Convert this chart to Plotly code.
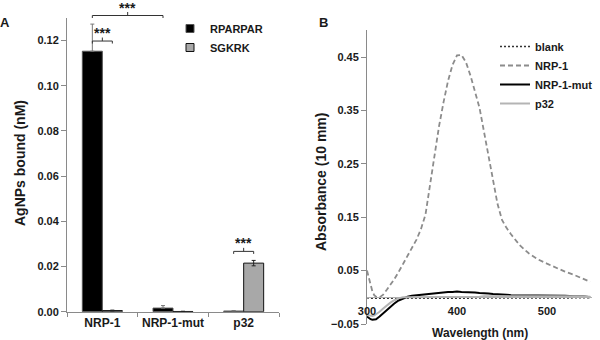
import plotly.graph_objects as go

# ---------------- Panel A data ----------------
categories = ["NRP-1", "NRP-1-mut", "p32"]
rparpar = [0.1153, 0.0016, 0.0003]
rparpar_err = [0.0120, 0.0011, 0.0002]
sgkrk = [0.0005, 0.0001, 0.0215]
sgkrk_err = [0.0002, 0.0001, 0.0012]
a_ticks = [0.00, 0.02, 0.04, 0.06, 0.08, 0.10, 0.12]
# brackets: (group1, bar1, group2, bar2, level)
brackets = [(0, 0, 0, 1, 0.1198), (0, 0, 1, 0, 0.1311), (2, 0, 2, 1, 0.0267)]
bracket_label = "***"

# ---------------- Panel B data ----------------
wavelength = [300, 302, 304, 306, 308, 310, 314, 318, 322, 326, 330, 335, 340, 345, 350,
              355, 360, 365, 370, 375, 380, 385, 390, 395, 400, 405, 410, 415, 420, 425,
              430, 435, 440, 445, 450, 455, 460, 470, 480, 490, 500, 510, 520, 530, 540, 548]
blank = [-0.001, -0.002, -0.002, -0.002, -0.002, -0.002, -0.002, -0.002, -0.002, -0.002,
         -0.002, -0.002, -0.002, -0.002, -0.002, -0.002, -0.002, -0.002, -0.002, -0.002,
         -0.002, -0.002, -0.002, -0.001, -0.001, -0.001, -0.002, -0.001, -0.001, -0.001,
         -0.001, -0.001, -0.001, -0.001, -0.001, -0.001, -0.001, -0.001, -0.001, -0.001,
         -0.001, -0.001, -0.001, -0.001, -0.001, -0.001]
nrp1 = [0.050, 0.036, 0.022, 0.011, 0.004, 0.001, 0.000, 0.005, 0.014, 0.023, 0.033, 0.047,
        0.062, 0.078, 0.094, 0.108, 0.128, 0.155, 0.210, 0.270, 0.320, 0.365, 0.405, 0.435,
        0.453, 0.454, 0.440, 0.415, 0.385, 0.355, 0.310, 0.265, 0.220, 0.175, 0.145, 0.130,
        0.118, 0.097, 0.082, 0.071, 0.063, 0.055, 0.048, 0.042, 0.035, 0.029]
nrp1_mut = [-0.036, -0.039, -0.041, -0.042, -0.042, -0.041, -0.036, -0.030, -0.023, -0.017,
            -0.012, -0.006, -0.002, 0.001, 0.003, 0.004, 0.005, 0.006, 0.007, 0.008, 0.008,
            0.009, 0.010, 0.010, 0.011, 0.010, 0.010, 0.009, 0.009, 0.008, 0.008, 0.007,
            0.006, 0.006, 0.005, 0.005, 0.004, 0.004, 0.004, 0.003, 0.003, 0.003, 0.003,
            0.002, 0.002, 0.000]
p32 = [-0.033, -0.034, -0.035, -0.035, -0.034, -0.032, -0.027, -0.021, -0.015, -0.010,
       -0.006, -0.002, 0.000, 0.000, 0.000, 0.000, 0.000, 0.000, 0.000, 0.001, 0.001,
       0.001, 0.001, 0.001, 0.001, 0.001, 0.001, 0.001, 0.001, 0.001, 0.002, 0.002,
       0.002, 0.003, 0.003, 0.003, 0.003, 0.003, 0.003, 0.003, 0.003, 0.003, 0.003,
       0.003, 0.002, 0.001]
b_yticks = [-0.05, 0.05, 0.15, 0.25, 0.35, 0.45]
b_xticks = [300, 400, 500]

FONT = "Liberation Sans, Arial, sans-serif"
TXT = "#1a1a1a"
AX = "#8a8a8a"
W, H = 600, 340

# layout geometry (pixels -> paper)
A_X = (67 / W, 279 / W)
A_Y = (1 - 311.7 / H, 1 - 18 / H)
A_RANGE = (0, 0.13)
B_X = (367 / W, 592 / W)
B_Y = (1 - 324 / H, 1 - 30.3 / H)
B_RANGE = (-0.05, 0.5)
BARGAP = 0.434
bw = (1 - BARGAP) / 2

RP_COLOR, RP_LINE = "#000000", "#555555"
SG_COLOR, SG_LINE = "#a8a8a8", "#111111"

fig = go.Figure()
fig.add_trace(go.Bar(
    x=categories, y=rparpar, name="RPARPAR", showlegend=False,
    marker=dict(color=RP_COLOR, line=dict(color=RP_LINE, width=1)),
    error_y=dict(type="data", array=rparpar_err, arrayminus=[0] * 3, symmetric=False,
                 color="#777777", thickness=1, width=2),
    xaxis="x", yaxis="y"))
fig.add_trace(go.Bar(
    x=categories, y=sgkrk, name="SGKRK", showlegend=False,
    marker=dict(color=SG_COLOR, line=dict(color=SG_LINE, width=1)),
    error_y=dict(type="data", array=sgkrk_err, color="#222222", thickness=1, width=2),
    xaxis="x", yaxis="y"))
# legend keys (small squares) for the bar series
for name, col, lc in [("RPARPAR", RP_COLOR, RP_LINE), ("SGKRK", SG_COLOR, SG_LINE)]:
    fig.add_trace(go.Scatter(x=[None], y=[None], mode="markers", name=name,
                             marker=dict(symbol="square", size=8, color=col,
                                         line=dict(color=lc, width=1)),
                             xaxis="x", yaxis="y", legend="legend"))

styles = [
    ("blank", blank, dict(color="#333333", width=1.5, dash="2px,2px")),
    ("NRP-1", nrp1, dict(color="#8c8c8c", width=1.8, dash="5px,3px")),
    ("NRP-1-mut", nrp1_mut, dict(color="#000000", width=2)),
    ("p32", p32, dict(color="#b4b4b4", width=2)),
]
for name, vals, ln in styles:
    fig.add_trace(go.Scatter(x=wavelength, y=vals, name=name, mode="lines", line=ln,
                             xaxis="x2", yaxis="y2", legend="legend2"))


def ax_px(pos):
    return A_X[0] + (pos + 0.5) / len(categories) * (A_X[1] - A_X[0])


def ay_px(v):
    return A_Y[0] + (v - A_RANGE[0]) / (A_RANGE[1] - A_RANGE[0]) * (A_Y[1] - A_Y[0])


shapes = []
annotations = []
for g1, b1, g2, b2, lvl in brackets:
    x1 = ax_px(g1 + (b1 - 0.5) * bw)
    x2 = ax_px(g2 + (b2 - 0.5) * bw)
    xm = (x1 + x2) / 2
    y = ay_px(lvl)
    yd = y - 2.5 / H
    yu = y + 3.5 / H
    path = f"M{x1},{yd} L{x1},{y} L{x2},{y} L{x2},{yd} M{xm},{y} L{xm},{yu}"
    shapes.append(dict(type="path", xref="paper", yref="paper", path=path,
                       line=dict(color="#333333", width=1)))
    annotations.append(dict(xref="paper", yref="paper", x=xm, y=y + 8 / H,
                            text=bracket_label, showarrow=False, xanchor="center",
                            yanchor="middle", font=dict(size=14, color=TXT)))

annotations += [
    dict(xref="paper", yref="paper", x=5 / W, y=1 - 22.5 / H, text="A", showarrow=False,
         xanchor="center", yanchor="middle", font=dict(size=13, color=TXT)),
    dict(xref="paper", yref="paper", x=323 / W, y=1 - 22.5 / H, text="B", showarrow=False,
         xanchor="center", yanchor="middle", font=dict(size=13, color=TXT)),
    dict(xref="paper", yref="paper", x=20 / W, y=1 - 163 / H, text="AgNPs bound (nM)",
         textangle=-90, showarrow=False, xanchor="center", yanchor="middle",
         font=dict(size=14, color=TXT)),
    dict(xref="paper", yref="paper", x=321 / W, y=1 - 182 / H, text="Absorbance (10 mm)",
         textangle=-90, showarrow=False, xanchor="center", yanchor="middle",
         font=dict(size=14, color=TXT)),
    dict(xref="paper", yref="paper", x=(B_X[0] + B_X[1]) / 2, y=1 - 333 / H,
         text="Wavelength (nm)", showarrow=False, xanchor="center", yanchor="middle",
         font=dict(size=12, color=TXT)),
]

zero_pos = B_Y[0] + (0 - B_RANGE[0]) / (B_RANGE[1] - B_RANGE[0]) * (B_Y[1] - B_Y[0])

fig.update_layout(
    width=W, height=H, margin=dict(l=0, r=0, t=0, b=0, autoexpand=False),
    paper_bgcolor="white", plot_bgcolor="white",
    font=dict(family=FONT, size=11, color=TXT, weight="bold"),
    barmode="group", bargap=BARGAP, bargroupgap=0,
    showlegend=True,
    xaxis=dict(domain=list(A_X), anchor="y", type="category", showgrid=False,
               showline=True, linecolor=AX, linewidth=1, ticks="outside", ticklen=4,
               tickcolor=AX, tickson="boundaries", tickfont=dict(size=12),
               tickangle=0, zeroline=False, automargin=False),
    yaxis=dict(domain=list(A_Y), anchor="x", range=list(A_RANGE), showgrid=False,
               showline=True, linecolor=AX, linewidth=1, ticks="outside", ticklen=5,
               tickcolor=AX, tickvals=a_ticks, tickformat=".2f", zeroline=False,
               tickfont=dict(size=11), automargin=False),
    xaxis2=dict(domain=list(B_X), anchor="free", position=zero_pos, range=[300, 550],
                showgrid=False, showline=True, linecolor="#b0b0b0", linewidth=1,
                ticks="outside", ticklen=3, tickcolor="rgba(0,0,0,0)", tickvals=b_xticks,
                tickangle=0, zeroline=False, tickfont=dict(size=11), automargin=False),
    yaxis2=dict(domain=list(B_Y), anchor="x2", range=list(B_RANGE), showgrid=False,
                showline=True, linecolor=AX, linewidth=1, ticks="outside", ticklen=5,
                tickcolor=AX, tickvals=b_yticks, tickformat=".2f", zeroline=False,
                tickfont=dict(size=11), automargin=False),
    legend=dict(x=170 / W, y=1 - 14 / H, xanchor="left", yanchor="top",
                bgcolor="rgba(0,0,0,0)", font=dict(size=11), tracegroupgap=0),
    legend2=dict(x=598 / W, y=1 - 32 / H, xanchor="right", yanchor="top",
                 bgcolor="rgba(0,0,0,0)", font=dict(size=11), tracegroupgap=0),
    shapes=shapes, annotations=annotations,
)

fig.write_html("out.html", config={"displayModeBar": False},
               post_script="document.body.style.margin='0';document.body.style.overflow='hidden';")
